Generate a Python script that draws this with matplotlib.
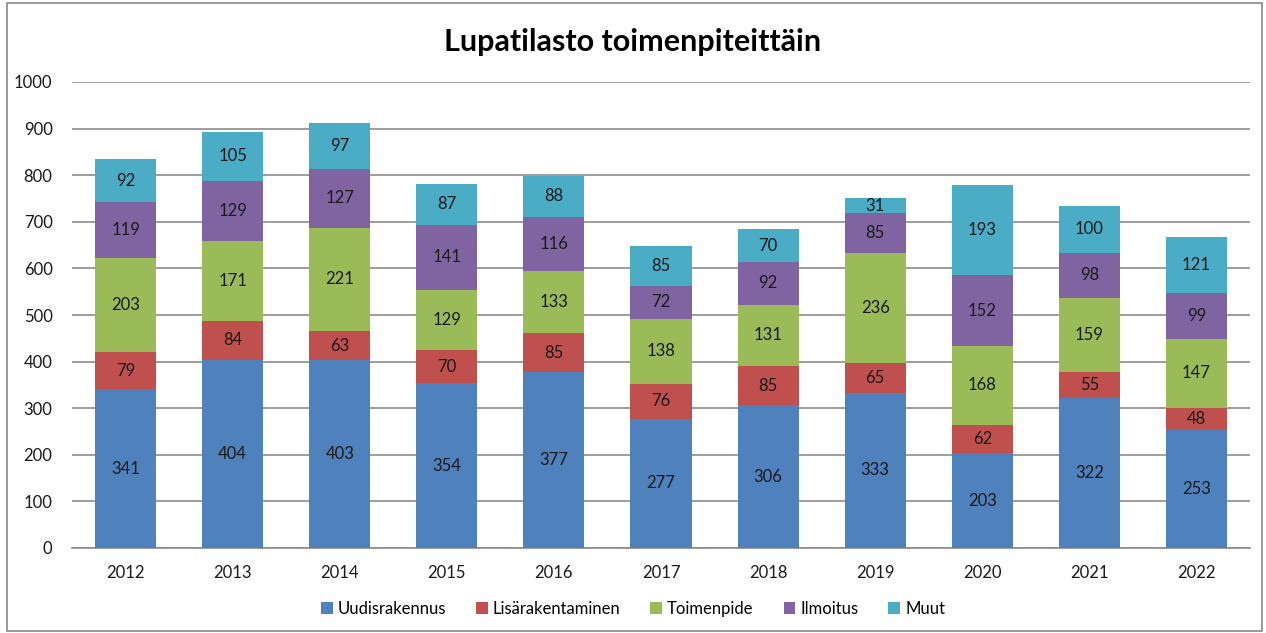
import matplotlib
matplotlib.use("Agg")
import matplotlib.pyplot as plt
from matplotlib.patches import Rectangle
import numpy as np

years = ["2012", "2013", "2014", "2015", "2016", "2017", "2018", "2019", "2020", "2021", "2022"]
uudis = [341, 404, 403, 354, 377, 277, 306, 333, 203, 322, 253]
lisa = [79, 84, 63, 70, 85, 76, 85, 65, 62, 55, 48]
toimen = [203, 171, 221, 129, 133, 138, 131, 236, 168, 159, 147]
ilmo = [119, 129, 127, 141, 116, 72, 92, 85, 152, 98, 99]
muut = [92, 105, 97, 87, 88, 85, 70, 31, 193, 100, 121]
series_names = ["Uudisrakennus", "Lisärakentaminen", "Toimenpide", "Ilmoitus", "Muut"]
colors = ["#4F81BD", "#C0504D", "#9BBB59", "#8064A2", "#4BACC6"]

plt.rcParams['font.family'] = ['Lato', 'DejaVu Sans']

fig = plt.figure(figsize=(12.66, 6.33), dpi=100)
fig.patches.append(Rectangle((7/1266, 2/633), 1255/1266, 628/633, transform=fig.transFigure,
                             fill=False, edgecolor="#888888", linewidth=1.2))
ax = fig.add_axes([72/1266, 1 - 548/633, (1250-72)/1266, (548-82)/633])

x = np.arange(len(years))
bottom = np.zeros(len(years))
for vals, name, c in zip([uudis, lisa, toimen, ilmo, muut], series_names, colors):
    vals = np.array(vals, dtype=float)
    ax.bar(x, vals, 0.57, bottom=bottom, color=c, label=name, zorder=3)
    for xi, b, v in zip(x, bottom, vals):
        ax.text(xi, b + v/2, f"{int(v)}", ha="center", va="center", fontsize=12,
                color="#1a1a1a", zorder=4)
    bottom += vals

ax.set_ylim(0, 1000)
ax.set_xlim(-0.5, len(years) - 0.5)
ax.set_yticks(np.arange(0, 1001, 100))
ax.set_xticks(x)
ax.set_xticklabels(years)
ax.yaxis.grid(True, color="#8c8c8c", linewidth=1.2, zorder=0)
for s in ["top", "right", "left"]:
    ax.spines[s].set_visible(False)
ax.spines["bottom"].set_color("#8c8c8c")
ax.spines["bottom"].set_linewidth(1.2)
ax.tick_params(axis="both", length=0, labelsize=12, colors="#1a1a1a")
ax.tick_params(axis="y", pad=14)
ax.tick_params(axis="x", pad=12)

fig.text(0.5, 1 - 42/633, "Lupatilasto toimenpiteittäin", ha="center", va="center",
         fontsize=22, fontweight="bold", color="#000000")

leg = fig.legend(loc="center", bbox_to_anchor=(0.5, 1 - 609/633), ncol=5, frameon=False,
                 fontsize=12, handlelength=0.7, handleheight=0.7, handletextpad=0.3,
                 columnspacing=1.8)

fig.savefig("out.png", dpi=100)
